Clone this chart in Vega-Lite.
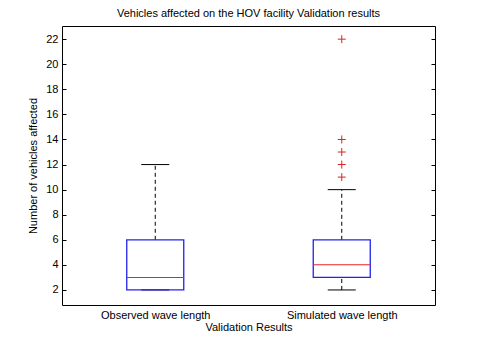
{
  "$schema": "https://vega.github.io/schema/vega-lite/v6.json",
  "autosize": "none",
  "width": 373,
  "height": 279,
  "padding": {"left": 62, "top": 26, "right": 45, "bottom": 55},
  "background": "white",
  "title": {"text": "Vehicles affected on the HOV facility Validation results", "font": "Liberation Sans", "fontSize": 11, "fontWeight": "normal", "color": "black", "offset": 7},
  "config": {
    "view": {"stroke": "black", "strokeWidth": 1},
    "axis": {"labelFont": "Liberation Sans", "titleFont": "Liberation Sans", "labelFontSize": 11, "titleFontSize": 11, "titleFontWeight": "normal", "labelColor": "black", "titleColor": "black", "grid": false, "domain": false, "tickColor": "black", "labelOverlap": false}
  },
  "datasets": {
    "boxes": [
      {"group": "Observed wave length", "lower": 2, "q1": 2, "median": 3, "q3": 6, "upper": 12},
      {"group": "Simulated wave length", "lower": 2, "q1": 3, "median": 4, "q3": 6, "upper": 10}
    ],
    "outliers": [
      {"group": "Simulated wave length", "value": 11},
      {"group": "Simulated wave length", "value": 12},
      {"group": "Simulated wave length", "value": 13},
      {"group": "Simulated wave length", "value": 14},
      {"group": "Simulated wave length", "value": 22}
    ]
  },
  "resolve": {"scale": {"y": "independent"}, "axis": {"y": "independent"}},
  "layer": [
    {
      "data": {"name": "boxes"},
      "encoding": {
        "x": {"field": "group", "type": "nominal", "sort": ["Observed wave length", "Simulated wave length"], "scale": {"type": "point", "padding": 0.5}, "axis": {"title": "Validation Results", "labelAngle": 0, "ticks": false, "labelPadding": 4, "titlePadding": 1}}
      },
      "layer": [
        {
          "mark": {"type": "tick", "color": "black", "size": 28, "thickness": 1, "opacity": 1},
          "encoding": {"y": {"field": "upper", "type": "quantitative", "scale": {"domain": [0.8, 23.05], "nice": false, "zero": false}, "axis": {"title": "Number of vehicles affected", "values": [2,4,6,8,10,12,14,16,18,20,22], "tickCount": 30, "tickSize": -4, "labelPadding": 8, "titlePadding": 7, "labelOverlap": false}}}
        },
        {
          "mark": {"type": "tick", "color": "black", "size": 28, "thickness": 1, "opacity": 1},
          "encoding": {"y": {"field": "lower", "type": "quantitative"}}
        },
        {
          "mark": {"type": "rule", "color": "black", "strokeDash": [4, 3], "strokeWidth": 1},
          "encoding": {"y": {"field": "q3", "type": "quantitative"}, "y2": {"field": "upper"}}
        },
        {
          "mark": {"type": "rule", "color": "black", "strokeDash": [4, 3], "strokeWidth": 1},
          "encoding": {"y": {"field": "lower", "type": "quantitative"}, "y2": {"field": "q1"}}
        },
        {
          "mark": {"type": "bar", "size": 57, "fill": "white", "fillOpacity": 0, "stroke": "#2222ee", "strokeWidth": 1.3},
          "encoding": {"y": {"field": "q1", "type": "quantitative"}, "y2": {"field": "q3"}}
        },
        {
          "mark": {"type": "tick", "color": "#ee2222", "size": 57, "thickness": 1, "opacity": 1},
          "encoding": {"y": {"field": "median", "type": "quantitative"}}
        }
      ]
    },
    {
      "data": {"name": "outliers"},
      "mark": {"type": "point", "shape": "M-1,0L1,0M0,-1L0,1", "size": 64, "filled": false, "stroke": "#dd2222", "strokeWidth": 1, "opacity": 1},
      "encoding": {
        "x": {"field": "group", "type": "nominal", "sort": ["Observed wave length", "Simulated wave length"], "scale": {"type": "point", "padding": 0.5}},
        "y": {"field": "value", "type": "quantitative", "scale": {"domain": [0.8, 23.05], "nice": false, "zero": false}, "axis": {"orient": "right", "title": null, "labels": false, "values": [2,4,6,8,10,12,14,16,18,20,22], "tickCount": 30, "tickSize": -4}}
      }
    }
  ]
}
